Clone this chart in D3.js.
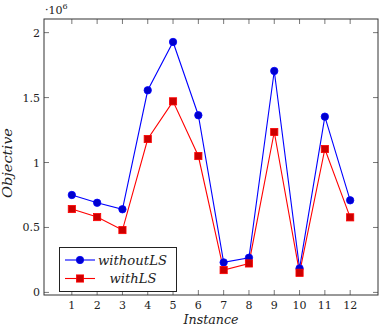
<!DOCTYPE html>
<html><head><meta charset="utf-8">
<script src="https://cdn.jsdelivr.net/npm/d3@7"></script>
<style>
body{margin:0;background:#fff;}
</style></head>
<body><svg id="c" width="379" height="328"></svg>
<script>
const instances = [1,2,3,4,5,6,7,8,9,10,11,12];
const withoutLS = [0.75,0.69,0.64,1.556,1.928,1.364,0.231,0.267,1.705,0.185,1.353,0.709];
const withLS = [0.642,0.58,0.48,1.181,1.471,1.05,0.172,0.223,1.235,0.151,1.104,0.578];
const yTicks = [0,0.5,1,1.5,2];
const yTickLabels = ["0","0.5","1","1.5","2"];
const seriesNames = ["withoutLS","withLS"];

const FONT = "'DejaVu Serif', 'Liberation Serif', serif";
const svg = d3.select("#c");
const L=44, R=378, T=19, B=295;
const x = d3.scaleLinear().domain([-0.1,13.1]).range([L,R]);
const y = d3.scaleLinear().domain([-0.02,2.105]).range([B,T]);
const tickLen = 5, tickCol = "#555";
function txt(sel){ return sel.append("text").attr("font-family",FONT).attr("fill","#222"); }

const g = svg.append("g");
instances.forEach(v=>{
  g.append("line").attr("x1",x(v)).attr("x2",x(v)).attr("y1",B).attr("y2",B-tickLen).attr("stroke",tickCol).attr("stroke-width",0.8);
  g.append("line").attr("x1",x(v)).attr("x2",x(v)).attr("y1",T).attr("y2",T+tickLen).attr("stroke",tickCol).attr("stroke-width",0.8);
  txt(g).attr("x",x(v)).attr("y",B+14).attr("text-anchor","middle").attr("font-size",11).text(v);
});
yTicks.forEach((v,i)=>{
  g.append("line").attr("x1",L).attr("x2",L+tickLen).attr("y1",y(v)).attr("y2",y(v)).attr("stroke",tickCol).attr("stroke-width",0.8);
  g.append("line").attr("x1",R).attr("x2",R-tickLen).attr("y1",y(v)).attr("y2",y(v)).attr("stroke",tickCol).attr("stroke-width",0.8);
  txt(g).attr("x",L-4).attr("y",y(v)+4).attr("text-anchor","end").attr("font-size",11).text(yTickLabels[i]);
});
svg.append("rect").attr("x",L).attr("y",T).attr("width",R-L).attr("height",B-T).attr("fill","none").attr("stroke","#333").attr("stroke-width",1);

const sl = txt(svg).attr("x",45).attr("y",14).attr("font-size",11);
sl.append("tspan").text("·10");
sl.append("tspan").attr("dy",-5).attr("font-size",8).text("6");

txt(svg).attr("x",211).attr("y",324).attr("text-anchor","middle").attr("font-size",13).attr("font-style","italic")
  .attr("textLength",55).attr("lengthAdjust","spacingAndGlyphs").text("Instance");
txt(svg).attr("transform","translate(12,163) rotate(-90)").attr("text-anchor","middle").attr("font-size",13).attr("font-style","italic")
  .attr("textLength",70).attr("lengthAdjust","spacingAndGlyphs").text("Objective");

const line = d3.line().x((d,i)=>x(instances[i])).y(d=>y(d));
svg.append("path").datum(withoutLS).attr("d",line).attr("fill","none").attr("stroke","#0000ff").attr("stroke-width",1.1);
svg.append("path").datum(withLS).attr("d",line).attr("fill","none").attr("stroke","#ff0000").attr("stroke-width",1.1);
svg.selectAll("circle.m").data(withoutLS).enter().append("circle").attr("class","m")
  .attr("cx",(d,i)=>x(instances[i])).attr("cy",d=>y(d)).attr("r",3.7).attr("fill","#0000cc").attr("stroke","#0000ff").attr("stroke-width",0.8);
const s=3.6;
svg.selectAll("rect.m").data(withLS).enter().append("rect").attr("class","m")
  .attr("x",(d,i)=>x(instances[i])-s).attr("y",d=>y(d)-s).attr("width",2*s).attr("height",2*s).attr("fill","#cc0000").attr("stroke","#ff0000").attr("stroke-width",0.8);

const lg = svg.append("g");
lg.append("rect").attr("x",59.5).attr("y",247.5).attr("width",117).attr("height",44).attr("fill","#fff").attr("stroke","#222").attr("stroke-width",1);
const rows=[260,278.5];
lg.append("line").attr("x1",65).attr("x2",95).attr("y1",rows[0]).attr("y2",rows[0]).attr("stroke","#0000ff").attr("stroke-width",1.1);
lg.append("circle").attr("cx",80).attr("cy",rows[0]).attr("r",3.7).attr("fill","#0000cc").attr("stroke","#0000ff").attr("stroke-width",0.8);
lg.append("line").attr("x1",65).attr("x2",95).attr("y1",rows[1]).attr("y2",rows[1]).attr("stroke","#ff0000").attr("stroke-width",1.1);
lg.append("rect").attr("x",80-s).attr("y",rows[1]-s).attr("width",2*s).attr("height",2*s).attr("fill","#cc0000").attr("stroke","#ff0000").attr("stroke-width",0.8);
txt(lg).attr("x",132.5).attr("y",rows[0]+4.5).attr("text-anchor","middle").attr("font-size",13).attr("font-style","italic")
  .attr("textLength",69).attr("lengthAdjust","spacingAndGlyphs").text(seriesNames[0]);
txt(lg).attr("x",133).attr("y",rows[1]+4.5).attr("text-anchor","middle").attr("font-size",13).attr("font-style","italic")
  .attr("textLength",47).attr("lengthAdjust","spacingAndGlyphs").text(seriesNames[1]);
</script></body></html>
